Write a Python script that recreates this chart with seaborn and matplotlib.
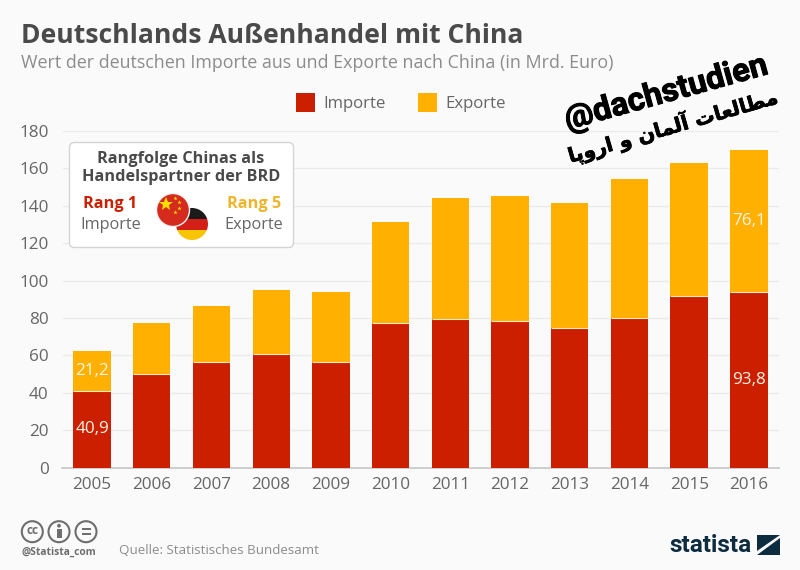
import matplotlib
matplotlib.use("Agg")
import matplotlib.pyplot as plt
import matplotlib.patches as mp
import matplotlib.patheffects as pe
import pandas as pd
import seaborn as sns

years = ["2005", "2006", "2007", "2008", "2009", "2010", "2011", "2012", "2013", "2014", "2015", "2016"]
importe = [40.9, 49.9, 56.4, 60.8, 56.7, 77.3, 79.5, 78.5, 74.5, 79.8, 91.9, 93.8]
exporte = [21.2, 27.5, 29.9, 34.1, 37.3, 53.8, 64.9, 66.7, 67.0, 74.4, 71.1, 76.1]
y_ticks = [0, 20, 40, 60, 80, 100, 120, 140, 160, 180]

RED = "#cc1f00"
GOLD = "#ffb000"
BG = "#fafafa"
DARK = "#4a4a4a"
GREY = "#8c8c8c"
LABEL = "#666666"
BAR_WIDTH = 0.625

sns.set_theme(style="white")
plt.rcParams["font.family"] = ["Open Sans", "DejaVu Sans"]

W, H = 800, 570
fig = plt.figure(figsize=(W / 100, H / 100), dpi=100, facecolor=BG)

# Plot area in pixel terms: value 0 at y=467.5, value 180 at y=131
x0, x1 = 62.5, 779
ax = fig.add_axes([x0 / W, 1 - 467.5 / H, (x1 - x0) / W, (467.5 - 131) / H], facecolor=BG)

df = pd.DataFrame({"Jahr": years, "Importe": importe, "Exporte": exporte})
sns.barplot(data=df, x="Jahr", y="Importe", color=RED, width=BAR_WIDTH, saturation=1, linewidth=0,
            ax=ax, zorder=3)
sns.barplot(data=df, x="Jahr", y="Exporte", bottom=df["Importe"], color=GOLD, width=BAR_WIDTH,
            saturation=1, linewidth=0, ax=ax, zorder=3)

# Pale seam between the two stacked segments
for i, value in enumerate(importe):
    ax.hlines(value, i - BAR_WIDTH / 2, i + BAR_WIDTH / 2, color="#ffe9c4", lw=0.8, zorder=3.5)

ax.set_ylim(0, 180)
ax.set_xlim(-0.495, 11.505)
ax.set_yticks(y_ticks)
ax.set_xlabel("")
ax.set_ylabel("")
ax.yaxis.grid(True, color="#ebebeb", lw=1)
ax.xaxis.grid(False)
ax.set_axisbelow(True)
sns.despine(ax=ax, left=True, top=True, right=True)
ax.spines["bottom"].set_color("#c8c8c8")
ax.tick_params(axis="both", length=0, labelsize=12.3, labelcolor=LABEL)
ax.tick_params(axis="y", pad=10)
ax.tick_params(axis="x", pad=6.5)

# Value labels on the first and last columns
for idx in (0, 11):
    ax.text(idx, importe[idx] / 2, f"{importe[idx]:.1f}".replace(".", ","), color="#fff4e6",
            ha="center", va="center", fontsize=12.3, zorder=4)
    ax.text(idx, importe[idx] + exporte[idx] / 2, f"{exporte[idx]:.1f}".replace(".", ","),
            color="#fff4e6", ha="center", va="center", fontsize=12.3, zorder=4)

# Overlay in pixel coordinates for the header, callout, footer and stamp
ov = fig.add_axes([0, 0, 1, 1], facecolor="none")
ov.set_xlim(0, W)
ov.set_ylim(H, 0)
ov.axis("off")

ov.text(21, 36, "Deutschlands Außenhandel mit China", fontsize=19.1, fontweight="bold",
        color=DARK, va="center", ha="left")
ov.text(21, 63, "Wert der deutschen Importe aus und Exporte nach China (in Mrd. Euro)",
        fontsize=12.9, color=GREY, va="center", ha="left")

# Legend
ov.add_patch(mp.Rectangle((296, 93), 19, 19, color=RED, lw=0))
ov.text(323, 103.5, "Importe", fontsize=12.1, color=LABEL, va="center")
ov.add_patch(mp.Rectangle((418, 93), 19, 19, color=GOLD, lw=0))
ov.text(445, 103.5, "Exporte", fontsize=12.1, color=LABEL, va="center")

# Rank callout
ov.add_patch(mp.FancyBboxPatch((69.5, 142.5), 224, 105, boxstyle="round,pad=0,rounding_size=5",
                               fc="white", ec="#d4d4d4", lw=1, zorder=5))
ov.text(181, 159, "Rangfolge Chinas als", fontsize=11.7, fontweight="bold", color=DARK,
        ha="center", va="center", zorder=6)
ov.text(181, 177, "Handelspartner der BRD", fontsize=11.7, fontweight="bold", color=DARK,
        ha="center", va="center", zorder=6)
ov.text(110, 204, "Rang 1", fontsize=11.7, fontweight="bold", color=RED, ha="center", va="center", zorder=6)
ov.text(111, 225, "Importe", fontsize=11.7, color=LABEL, ha="center", va="center", zorder=6)
ov.text(254, 204, "Rang 5", fontsize=11.7, fontweight="bold", color="#f0b429", ha="center", va="center", zorder=6)
ov.text(254, 225, "Exporte", fontsize=11.7, color=LABEL, ha="center", va="center", zorder=6)

# German flag disc, three clipped stripes
de_c = (192, 224)
de_r = 16
de_clip = mp.Circle(de_c, de_r, transform=ov.transData)
for top, colour in ((208, "#1a1a1a"), (218.5, "#d22018"), (229.5, "#f7c600")):
    stripe = mp.Rectangle((175, top), 34, 11, color=colour, lw=0, zorder=7)
    ov.add_patch(stripe)
    stripe.set_clip_path(de_clip)

# Chinese flag disc with stars
ov.add_patch(mp.Circle((173, 210), 16.5, fc="#d52b1e", ec="#f4f4f4", lw=1, zorder=8))
ov.plot([166], [203.5], marker="*", ms=10, color="#ffde00", mew=0, zorder=9)
ov.plot([175, 179, 179, 175], [197.5, 202, 208, 212], ls="", marker="*", ms=3.2,
        color="#ffde00", mew=0, zorder=9)

# Footer: licence icons
ICON = "#6e6e6e"
for cx in (32.3, 59, 86):
    ov.add_patch(mp.Circle((cx, 531.7), 10.5, fc="none", ec=ICON, lw=1.5))
ov.text(32.3, 531, "cc", fontsize=8.5, fontweight="bold", color=ICON, ha="center", va="center")
ov.add_patch(mp.Circle((59, 525.7), 1.9, fc=ICON, lw=0))
ov.add_patch(mp.Rectangle((56.5, 528.5), 5, 9, fc=ICON, lw=0))
ov.add_patch(mp.Rectangle((81.5, 528), 9, 2, fc=ICON, lw=0))
ov.add_patch(mp.Rectangle((81.5, 532.5), 9, 2, fc=ICON, lw=0))
ov.text(21, 552, "@Statista_com", fontsize=7.4, fontweight="bold", color=ICON, va="center")
ov.text(119, 551, "Quelle: Statistisches Bundesamt", fontsize=9.6, color=GREY, va="center")

# Footer: wordmark
ov.text(669, 545, "statista", fontsize=17.5, fontweight="bold", color="#0e2c40", va="center",
        family="Roboto")
ov.add_patch(mp.Polygon([(757, 535), (780, 535), (757, 551)], color="#0e2c40", lw=0))
ov.add_patch(mp.Polygon([(780, 538), (780, 555), (757, 555)], color="#0e2c40", lw=0))

# Diagonal stamp, Persian line given as shaped glyphs in display order
stamp_latin = "@dachstudien"
shaped = ("\uFEE3\uFEC4\uFE8E\uFEDF\uFECC\uFE8E\uFE95 "
          "\uFE81\uFEDF\uFEE4\uFE8E\uFEE5 \uFEED "
          "\uFE8D\uFEAD\uFEED\uFB58\uFE8E")
stamp_fa = shaped[::-1]
ov.text(666, 93, stamp_latin, fontsize=23.5, fontweight="bold", color="black", family="Roboto",
        rotation=15.5, rotation_mode="anchor", ha="center", va="center", zorder=10,
        path_effects=[pe.withStroke(linewidth=0.7, foreground="black")])
ov.text(673, 126, stamp_fa, fontsize=14.4, fontweight="bold", color="black", family="DejaVu Sans",
        rotation=16, rotation_mode="anchor", ha="center", va="center", zorder=10,
        path_effects=[pe.withStroke(linewidth=0.5, foreground="black")])

fig.savefig("out.png", dpi=100, facecolor=BG)
